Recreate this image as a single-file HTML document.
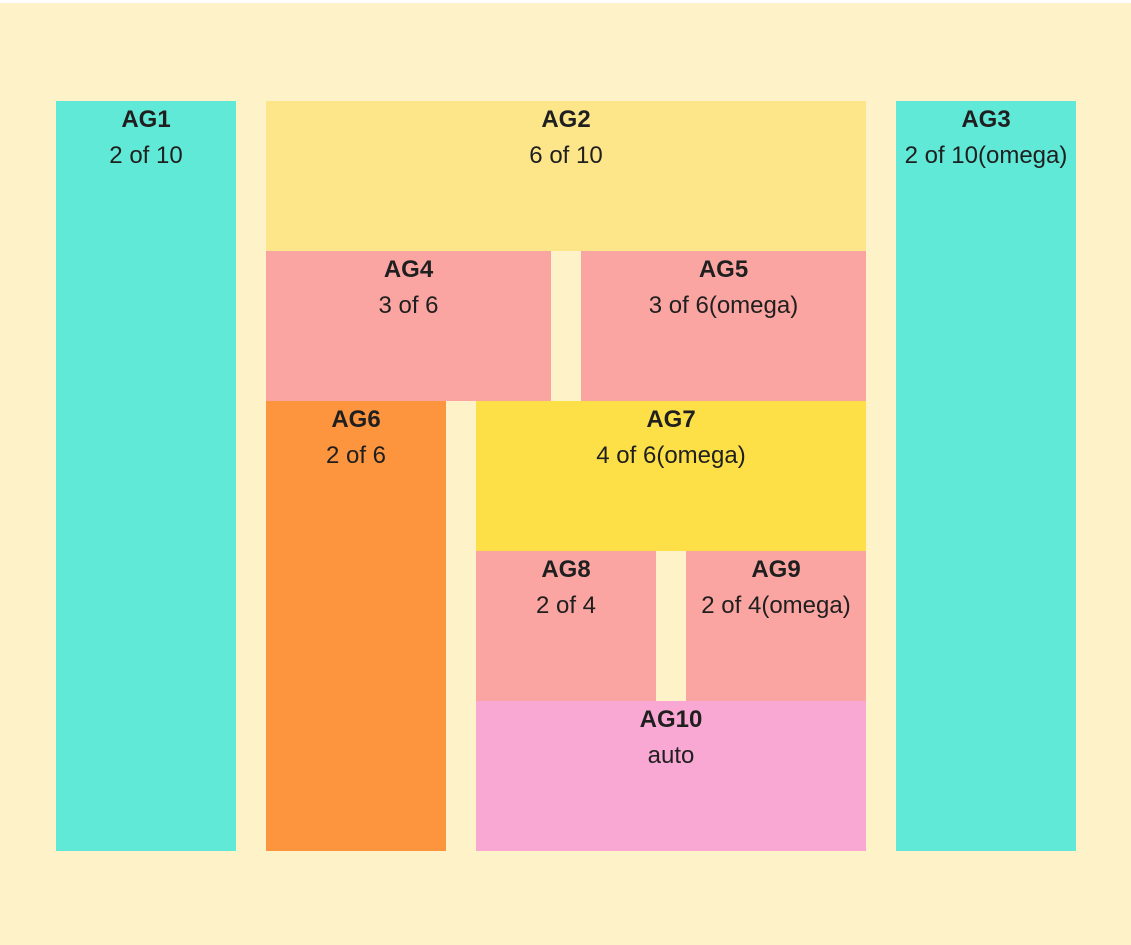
<!DOCTYPE html>
<html><head><meta charset="utf-8"><style>
html,body{margin:0;padding:0;}
body{width:1131px;height:945px;background:#fff;position:relative;overflow:hidden;font-family:"Liberation Sans",Arial,sans-serif;color:#1f1f1f;}
.bg{position:absolute;left:0;top:3px;width:1131px;height:942px;background:#FEF3C8;}
.b{position:absolute;text-align:center;font-size:24px;font-family:"Liberation Sans",Arial,sans-serif;}
.b .t{position:absolute;left:0;right:0;top:7px;font-weight:bold;line-height:24px;}
.b .s{position:absolute;left:0;right:0;top:43px;line-height:24px;}
</style></head><body>
<div class="bg"></div>
<div class="b" style="left:56px;top:101px;width:180px;height:750px;background:#61E9D8"><div class="t">AG1</div><div class="s">2 of 10</div></div>
<div class="b" style="left:266px;top:101px;width:600px;height:150px;background:#FDE58A"><div class="t">AG2</div><div class="s">6 of 10</div></div>
<div class="b" style="left:896px;top:101px;width:180px;height:750px;background:#61E9D8"><div class="t">AG3</div><div class="s">2 of 10(omega)</div></div>
<div class="b" style="left:266px;top:251px;width:285px;height:150px;background:#FBA5A2"><div class="t">AG4</div><div class="s">3 of 6</div></div>
<div class="b" style="left:581px;top:251px;width:285px;height:150px;background:#FBA5A2"><div class="t">AG5</div><div class="s">3 of 6(omega)</div></div>
<div class="b" style="left:266px;top:401px;width:180px;height:450px;background:#FC953E"><div class="t">AG6</div><div class="s">2 of 6</div></div>
<div class="b" style="left:476px;top:401px;width:390px;height:150px;background:#FDE047"><div class="t">AG7</div><div class="s">4 of 6(omega)</div></div>
<div class="b" style="left:476px;top:551px;width:180px;height:150px;background:#FBA5A2"><div class="t">AG8</div><div class="s">2 of 4</div></div>
<div class="b" style="left:686px;top:551px;width:180px;height:150px;background:#FBA5A2"><div class="t">AG9</div><div class="s">2 of 4(omega)</div></div>
<div class="b" style="left:476px;top:701px;width:390px;height:150px;background:#F9A8D4"><div class="t">AG10</div><div class="s">auto</div></div>
</body></html>
